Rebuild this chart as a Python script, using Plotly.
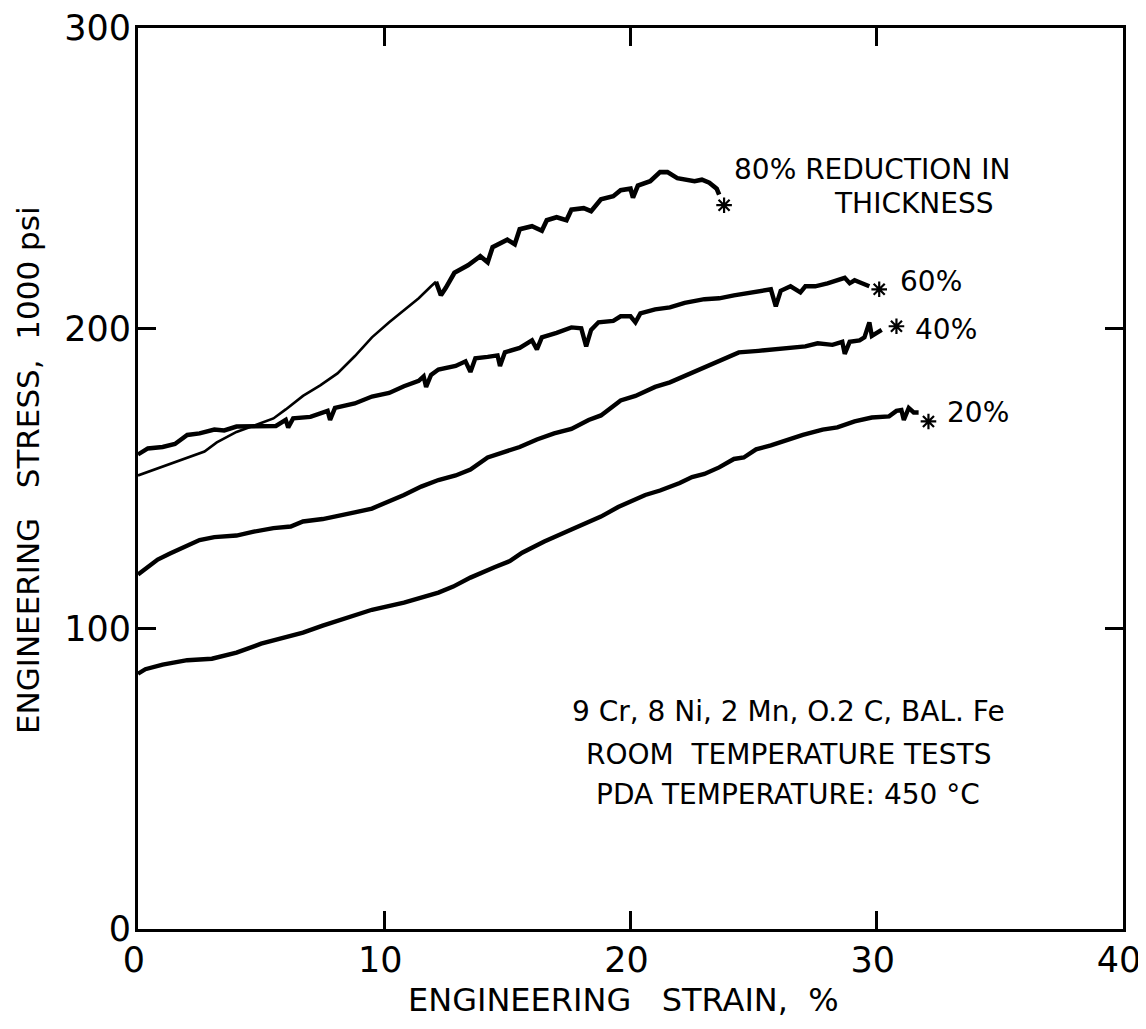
import plotly.graph_objects as go

# ---- data ----
x80 = [0, 0.5, 1, 1.5, 2, 2.7, 3.2, 4, 5, 5.5, 6, 6.7, 7.4, 8.1, 8.8, 9.5, 10.2, 10.8, 11.4, 11.9, 12.1,
       12.3, 12.5, 12.85, 13.4, 13.9, 14.2, 14.4, 15, 15.3, 15.5, 16, 16.4, 16.6, 17, 17.4, 17.6, 18.1, 18.4,
       18.8, 19.3, 19.6, 20.0, 20.1, 20.3, 20.8, 21.2, 21.5, 21.9, 22.3, 22.6, 22.9, 23.2, 23.5, 23.6]
y80 = [151, 152.5, 154, 155.5, 157, 159, 162, 165.5, 168.5, 170, 173, 177.5, 181, 185, 190.7, 197, 202, 206, 210, 214, 215.5,
       211, 213.5, 218.5, 221, 224, 222, 227, 229.5, 228, 233, 234, 232.5, 236, 237, 236, 239.5, 240, 239,
       243, 244, 246, 246.5, 243.5, 247.5, 249, 252, 252, 250, 249.5, 249, 249.5, 248.5, 246.5, 244.5]

x60 = [0, 0.4, 1, 1.5, 2, 2.5, 3.1, 3.5, 4, 5, 5.6, 6.0, 6.1, 6.3, 7, 7.7, 7.8, 8.0, 8.8, 9.5, 10.2, 10.8,
       11.4, 11.6, 11.7, 11.9, 12.2, 12.9, 13.3, 13.5, 13.7, 14.2, 14.6, 14.7, 14.9, 15.5, 16.0, 16.2, 16.4,
       17, 17.6, 18.0, 18.2, 18.4, 18.7, 19.3, 19.6, 20, 20.2, 20.4, 21, 21.6, 22.2, 23, 23.6, 24.2, 25, 25.7,
       25.9, 26.1, 26.5, 26.9, 27.1, 27.5, 28, 28.7, 28.9, 29.1, 29.4, 29.7]
y60 = [158, 160, 160.5, 161.5, 164.5, 165, 166.3, 166, 167.3, 167.3, 167.5, 169.5, 167, 170, 170.5, 172.5, 169.5, 173.5, 175, 177.3, 178.5, 180.7,
       182.5, 184, 180.5, 184.5, 186.3, 187.5, 189, 185.5, 190, 190.5, 191, 187.5, 192, 193.5, 196, 193, 197,
       198.5, 200.3, 200, 194, 199.5, 202, 202.5, 204, 204, 202, 205, 206.3, 207, 208.5, 209.7, 210, 211, 212, 213,
       207.3, 212.5, 214, 212, 214, 214, 215, 216.8, 215, 216, 215, 214]

x40 = [0, 0.3, 0.8, 1.3, 2, 2.5, 3.1, 4, 4.7, 5.5, 6.2, 6.7, 7.5, 8.2, 8.8, 9.5, 10.1, 10.8, 11.5, 12.2, 12.9,
       13.5, 14.2, 14.8, 15.5, 16.2, 16.9, 17.6, 18.3, 18.8, 19.3, 19.6, 20.2, 21, 21.6, 22.3, 23, 23.5, 24,
       24.4, 25.2, 26, 26.5, 27.1, 27.6, 28.2, 28.6, 28.7, 28.9, 29.3, 29.5, 29.7, 29.8, 30.2]
y40 = [118, 120, 123, 125, 127.5, 129.5, 130.5, 131, 132.3, 133.5, 134, 135.7, 136.5, 137.5, 138.7, 140, 142, 144.5, 147.3, 149.5, 151,
       153, 157, 158.5, 160.5, 163, 165, 166.5, 169.5, 171, 174, 176, 177.5, 180.5, 182, 184.5, 187.3, 189, 190.5,
       192, 192.5, 193, 193.5, 194, 195, 194.5, 195.5, 191.5, 195.5, 196, 197, 202, 197.5, 199.5]

x20 = [0, 0.3, 1, 2, 3, 4, 5, 6, 6.7, 7.5, 8.5, 9.5, 10.8, 11.5, 12.2, 12.8, 13.5, 14.5, 15.1, 15.6, 16.5,
       17.6, 18.2, 18.8, 19.5, 20, 20.6, 21.2, 22, 22.5, 23, 23.6, 24.2, 24.6, 25.1, 25.7, 26.4, 27, 27.8,
       28.4, 29.1, 29.8, 30.5, 30.8, 31.0, 31.1, 31.3, 31.5, 31.7]
y20 = [85, 86.5, 88, 89.5, 90, 92, 95, 97, 98.7, 101, 103.5, 106.3, 108.7, 110.5, 112, 114, 117, 120.5, 122.5, 125.3, 129,
       133, 135, 137.3, 140.5, 142.5, 144.5, 146, 148.5, 150.5, 151.5, 153.7, 156.5, 157, 159.7, 161, 163, 164.5, 166.3,
       167, 169, 170.3, 170.7, 172.5, 172.8, 169.5, 173.5, 172, 172]

# fracture points (asterisks)
frac_x = [23.8, 30.1, 30.8, 32.1]
frac_y = [241, 213, 200.7, 169]

# curve labels
lab_text = ["80% REDUCTION IN", "THICKNESS", "60%", "40%", "20%"]
lab_x = [29.8, 31.5, 32.2, 32.8, 34.1]
lab_y = [253.0, 241.7, 215.7, 199.7, 172]

note_lines = ["9 Cr, 8 Ni, 2 Mn, O.2 C, BAL. Fe", "ROOM  TEMPERATURE TESTS", "PDA TEMPERATURE: 450 °C"]
note_x = 26.4
note_y = [72.3, 58, 44.7]

x_ticks = [0, 10, 20, 30, 40]
y_ticks = [0, 100, 200, 300]

FONT = "DejaVu Sans"
BLACK = "#000000"

fig = go.Figure()

split = x80.index(12.1) + 1
fig.add_trace(go.Scatter(x=x80[:split], y=y80[:split], mode="lines",
                         line=dict(color=BLACK, width=2.6), hoverinfo="skip"))
fig.add_trace(go.Scatter(x=x80[split - 1:], y=y80[split - 1:], mode="lines",
                         line=dict(color=BLACK, width=4.6), hoverinfo="skip"))
for xs, ys in [(x60, y60), (x40, y40), (x20, y20)]:
    fig.add_trace(go.Scatter(x=xs, y=ys, mode="lines",
                             line=dict(color=BLACK, width=4.4), hoverinfo="skip"))

fig.add_trace(go.Scatter(x=frac_x, y=frac_y, mode="markers",
                         marker=dict(symbol="asterisk", size=13, color=BLACK,
                                     line=dict(color=BLACK, width=2.2)),
                         hoverinfo="skip"))

for t, x, y in zip(lab_text, lab_x, lab_y):
    fig.add_annotation(x=x, y=y, text=t, showarrow=False, xref="x", yref="y",
                       font=dict(family=FONT, size=28, color=BLACK), xanchor="center", yanchor="middle")

for t, y in zip(note_lines, note_y):
    fig.add_annotation(x=note_x, y=y, text=t, showarrow=False, xref="x", yref="y",
                       font=dict(family=FONT, size=28, color=BLACK), xanchor="center", yanchor="middle")

# axis titles
fig.add_annotation(x=0.493, y=-0.0788, xref="paper", yref="paper", text="ENGINEERING   STRAIN,  %",
                   showarrow=False, font=dict(family=FONT, size=32, color=BLACK),
                   xanchor="center", yanchor="middle")
fig.add_annotation(x=-0.111, y=0.509, xref="paper", yref="paper", text="ENGINEERING   STRESS,  1000 psi",
                   showarrow=False, textangle=-90, font=dict(family=FONT, size=31, color=BLACK),
                   xanchor="center", yanchor="middle")

axis_common = dict(showgrid=False, zeroline=False, showline=True, linecolor=BLACK, linewidth=3,
                   mirror="ticks", ticks="inside", ticklen=18, tickwidth=2.5, tickcolor=BLACK,
                   ticklabeloverflow="allow",
                   tickfont=dict(family=FONT, size=35, color=BLACK))

# the page body adds an 8px offset, so the figure is sized to fit the window
fig.update_layout(
    width=1138, height=1013,
    margin=dict(l=130, r=23, t=20, b=92),
    paper_bgcolor="white", plot_bgcolor="white",
    showlegend=False,
    xaxis=dict(range=[0, 40], tickvals=x_ticks, ticktext=[str(v) for v in x_ticks],
               ticklabelstandoff=-2, ticklabelshift=-4, automargin=False, **axis_common),
    yaxis=dict(range=[0, 300], tickvals=y_ticks, ticktext=[str(v) for v in y_ticks],
               ticklabelstandoff=-3, automargin=False, **axis_common),
)

fig.write_html("out.html")
